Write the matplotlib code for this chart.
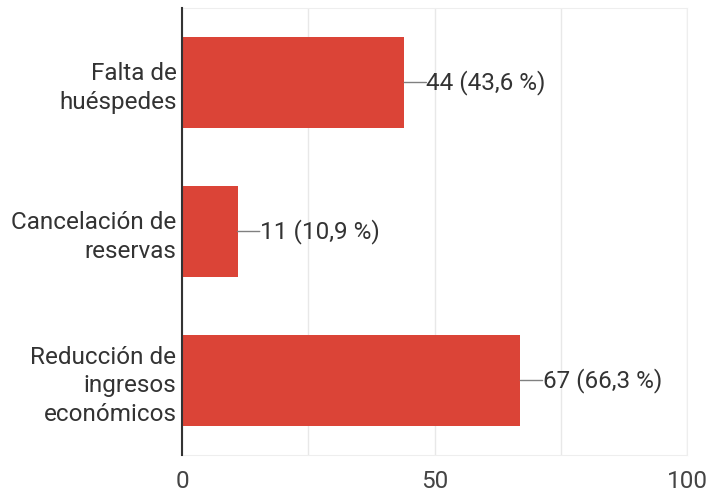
import matplotlib.pyplot as plt

# datos del gráfico
categorias = ["Falta de\nhuéspedes", "Cancelación de\nreservas", "Reducción de\ningresos\neconómicos"]
valores = [44, 11, 67]
porcentajes = ["43,6", "10,9", "66,3"]
ticks_x = [0, 50, 100]

plt.rcParams['font.family'] = ['Roboto', 'DejaVu Sans']

fig = plt.figure(figsize=(7.1, 4.95), dpi=100)
ax = fig.add_axes([182 / 710, 1 - 455 / 495, 505 / 710, 447 / 495])

pos = list(range(len(categorias)))
ax.barh(pos, valores, height=0.61, color='#db4437', zorder=3)

# etiquetas con línea guía
for p, v, pct in zip(pos, valores, porcentajes):
    ax.annotate(f"{v} ({pct} %)", xy=(v, p), xytext=(16, 0), textcoords='offset points',
                ha='left', va='center', fontsize=17.5, color='#333333',
                bbox=dict(boxstyle='square,pad=0', fc='none', ec='none'),
                arrowprops=dict(arrowstyle='-', color='#808080', lw=1.0,
                                shrinkA=0, shrinkB=0))

ax.set_xlim(0, 100)
ax.set_ylim(2.5, -0.5)
ax.set_yticks(pos)
ax.set_yticklabels(categorias, fontsize=17.5, color='#333333', ha='right', linespacing=1.32)
ax.set_xticks(ticks_x)
ax.set_xticklabels([str(t) for t in ticks_x], fontsize=17.5, color='#444444')
ax.set_xticks([25, 75], minor=True)
ax.tick_params(axis='both', which='both', length=0)
ax.tick_params(axis='x', pad=11)
ax.tick_params(axis='y', pad=4)

ax.grid(axis='x', which='both', color='#e8e8e8', lw=1, zorder=0)
for s in ['top', 'right', 'bottom']:
    ax.spines[s].set_color('#eeeeee')
ax.spines['left'].set_color('#333333')
ax.spines['left'].set_linewidth(1.5)
ax.spines['left'].set_zorder(4)

fig.savefig("out.png", dpi=100)
